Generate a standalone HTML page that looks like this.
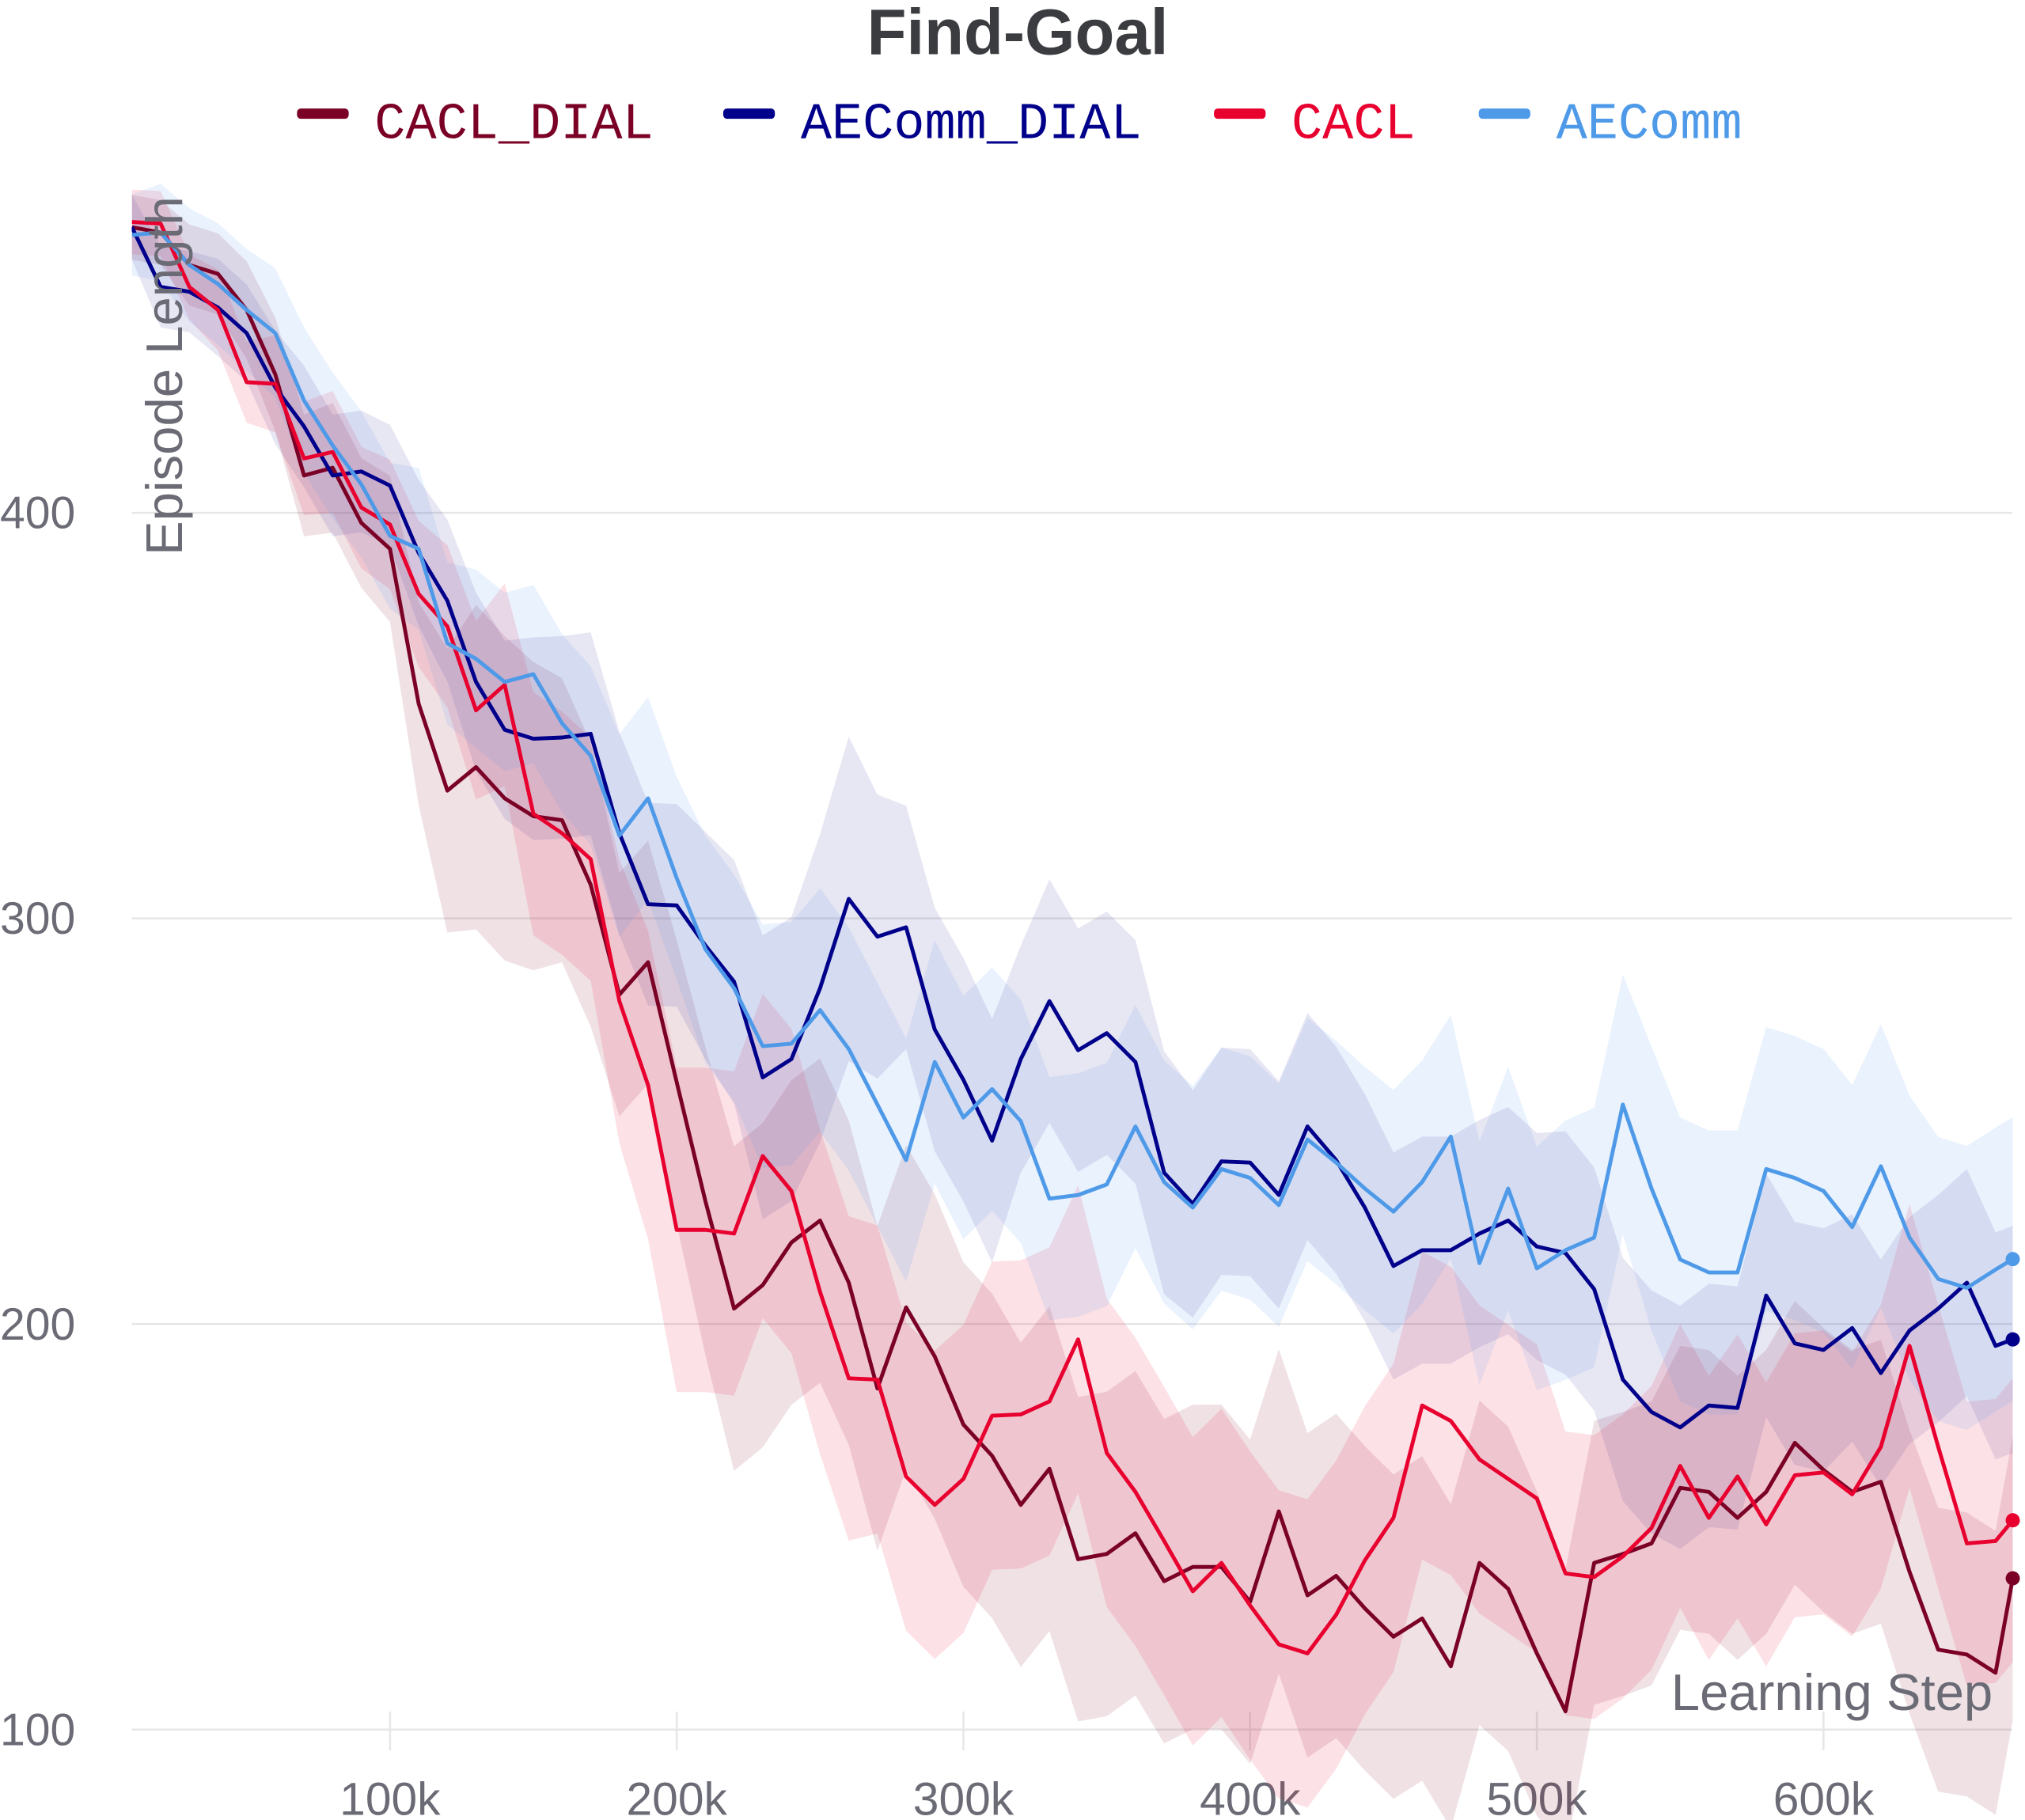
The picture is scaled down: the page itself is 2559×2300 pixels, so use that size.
<!DOCTYPE html>
<html><head><meta charset="utf-8"><style>
html,body{margin:0;padding:0;background:#fff;}
svg{display:block;}
</style></head><body>
<svg id="chart" xmlns="http://www.w3.org/2000/svg" width="2559" height="2300" viewBox="0 0 1568 1409" preserveAspectRatio="none">
<defs><clipPath id="clip"><rect x="102" y="0" width="1458" height="1409"/></clipPath></defs>
<text x="788" y="42" text-anchor="middle" font-family="Liberation Sans, sans-serif" font-weight="bold" font-size="50" fill="#3a3c40">Find-Goal</text>
<g id="legend" font-family="Liberation Mono, monospace" font-size="40"></g>
<g id="grid"></g>
<g id="bands" clip-path="url(#clip)"></g>
<g id="lines" clip-path="url(#clip)"></g>
<g id="dots"></g>
<text transform="translate(141,291) rotate(-90)" text-anchor="middle" font-family="Liberation Sans, sans-serif" font-size="40" fill="#6b6b76">Episode Length</text>
<text x="1543" y="1324" text-anchor="end" font-family="Liberation Sans, sans-serif" font-size="40" fill="#6b6b76">Learning Step</text>
</svg>
<script>
const steps = [10,20,30,40,50,60,70,80,90,100,110,120,130,140,150,160,170,180,190,200,210,220,230,240,250,260,270,280,290,300,310,320,330,340,350,360,370,380,390,400,410,420,430,440,450,460,470,480,490,500,510,520,530,540,550,560,570,580,590,600,610,620,630,640,650,660,666];
const caclDial = [470.4,469.1,461.1,458.9,450,434.1,409.2,411.1,397.5,391.1,352.9,331.5,337.3,329.6,325.2,324.2,308.3,281.2,289.2,259.6,230.3,203.8,209.6,220.1,225.5,210.2,184.1,204.1,192,175.2,167.5,155.4,164.3,142,143.3,148.4,136.6,140.1,140.1,131.5,153.8,133.1,137.9,129.9,122.9,127.4,115.6,141.1,134.7,118.8,104.5,141.1,143.3,145.9,159.6,158.6,152.2,158.6,170.7,164,158.6,161.1,138.9,119.7,118.5,114,137.3];
const aecommDial = [470.4,455.7,454.5,450.6,444.3,430.9,421.3,409.2,410.2,406.7,390.1,378.3,358.3,346.5,344.3,344.6,345.5,321,303.5,303.2,293.3,284.4,260.8,265.3,282.8,304.8,295.5,297.8,272.6,260.2,245.2,265.3,279.6,267.5,271.7,264.6,237.3,229.6,240.1,239.8,231.8,248.7,240.4,228.7,214.3,218.2,218.2,222.3,225.5,219.1,217.5,208.6,186.3,178.3,174.5,179.9,179.3,207,195.2,193.6,199,187.9,198.4,203.8,210.2,194.6,196.2];
const cacl = [471.7,471.3,455.7,450,432.2,431.8,413.4,415,401.3,397.1,380,372,351.3,357.6,325.8,321,314.6,279.6,258.9,223.2,223.2,222.3,241.4,232.8,207.9,186.6,186.3,162.4,155.4,161.8,177.4,177.7,180.9,196.2,168.2,158.6,146.5,134.1,141.1,130.6,121,118.8,128.3,141.7,152.2,179.9,176.1,166.6,161.8,157,138.5,137.6,142.7,149.7,165,152.2,162.4,150.6,162.7,163.4,158,169.7,194.6,169.7,145.9,146.5,151.6];
const aecomm = [468.5,469.1,461.1,456.4,450,444.3,427.7,416.6,407,394.3,391.1,367.8,364,358.3,360.2,348.1,340.1,320.4,329.6,309.9,292.4,282.8,268.5,269.1,277.4,267.8,254.1,240.4,264.6,250.9,257.9,250,230.9,231.8,234.4,248.7,235,228.7,238.2,236,229.3,245.5,239.8,233.4,227.7,235,246.2,215,233.4,213.7,218.2,221.3,254.1,233.4,215.9,212.7,212.7,238.2,236,232.8,223.9,238.9,221.3,211.1,208.9,213.4,216];
const caclDialSpread = [8,8,10,10,12,14,15,16,16,18,25,35,40,40,38,35,35,30,30,35,38,40,40,40,40,40,40,40,40,40,40,40,40,40,40,40,40,40,40,40,40,40,40,40,40,40,40,40,40,40,35,35,35,35,35,35,35,35,35,35,35,35,35,35,35,35,35];
const aecommDialSpread = [8,10,10,12,12,14,15,15,15,15,18,20,22,22,25,25,25,25,25,25,28,30,35,35,38,40,35,30,30,30,30,28,30,30,30,30,30,28,28,28,28,28,28,28,28,28,28,28,28,28,30,30,30,30,30,30,30,30,30,30,28,28,28,28,28,28,28];
const caclSpread = [8,8,8,10,10,12,14,15,15,16,18,20,22,25,30,30,30,35,38,40,40,40,40,40,40,40,38,38,38,38,38,38,38,38,38,38,38,38,38,38,38,38,38,38,38,38,38,38,38,38,35,35,35,35,35,35,35,35,35,35,35,35,35,35,35,35,35];
const aecommSpread = [10,12,14,15,15,16,18,18,18,18,20,20,22,22,22,22,22,25,25,25,28,28,30,30,30,30,30,30,30,30,30,30,30,30,30,30,30,30,30,30,30,30,30,30,30,30,30,30,30,30,32,32,32,35,35,35,35,35,35,35,35,35,35,35,35,35,35];
const yTicks = [100,200,300,400];
const xTicks = [100,200,300,400,500,600];
const seriesNames = ["CACL_DIAL","AEComm_DIAL","CACL","AEComm"];

const NS = "http://www.w3.org/2000/svg";
const xS = s => 302 + (s - 100) * 2.22;
const yS = v => 1339 - (v - 100) * 3.14;
function mk(tag, attrs, parent){ const e=document.createElementNS(NS,tag); for(const k in attrs) e.setAttribute(k,attrs[k]); parent.appendChild(e); return e; }

const grid = document.getElementById('grid');
yTicks.forEach(v=>{
  const l = mk('line',{x1:102,x2:1558,y1:yS(v),y2:yS(v),stroke:'#e6e6e6','stroke-width':1.5},grid);
  
  
  const t = mk('text',{x:0,y:yS(v)+12,'font-family':'Liberation Sans, sans-serif','font-size':35,fill:'#6b6b76'},grid);
  t.textContent = v;
  
  
});
xTicks.forEach(s=>{
  const l = mk('line',{x1:xS(s),x2:xS(s),y1:1325,y2:1355,stroke:'#e6e6e6','stroke-width':1.5},grid);
  
  
  const t = mk('text',{x:xS(s),y:1405,'text-anchor':'middle','font-family':'Liberation Sans, sans-serif','font-size':36,fill:'#6b6b76'},grid);
  t.textContent = s+'k';
  
  
});

const series = [
  {name:'cacl-dial', vals:caclDial, spread:caclDialSpread, color:'#7b0026', band:'rgba(128,10,40,0.12)'},
  {name:'aecomm-dial', vals:aecommDial, spread:aecommDialSpread, color:'#00008b', band:'rgba(40,30,150,0.11)'},
  {name:'cacl', vals:cacl, spread:caclSpread, color:'#e8002f', band:'rgba(235,20,60,0.13)'},
  {name:'aecomm', vals:aecomm, spread:aecommSpread, color:'#4e9ae8', band:'rgba(80,150,235,0.12)'}
];
const bands = document.getElementById('bands');
const lines = document.getElementById('lines');
const dots = document.getElementById('dots');
series.forEach(s=>{
  let up = s.vals.map((v,i)=>xS(steps[i])+','+yS(v+s.spread[i]));
  let dn = s.vals.map((v,i)=>xS(steps[i])+','+yS(v-s.spread[i])).reverse();
  const b = mk('polygon',{points:up.concat(dn).join(' '),fill:s.band},bands);
  
  
});
series.forEach(s=>{
  const p = mk('polyline',{points:s.vals.map((v,i)=>xS(steps[i])+','+yS(v)).join(' '),fill:'none',stroke:s.color,'stroke-width':3,'stroke-linejoin':'round'},lines);
  
  
  const n = s.vals.length-1;
  const d = mk('circle',{cx:xS(steps[n]),cy:yS(s.vals[n]),r:5.5,fill:s.color},dots);
  
  
});

const legend = document.getElementById('legend');
const legX = [230,560,940,1145];
seriesNames.forEach((nm,i)=>{
  const r = mk('rect',{x:legX[i],y:84,width:40,height:8,rx:3,fill:series[i].color},legend);
  
  
  const t = mk('text',{x:legX[i]+60,y:107,fill:series[i].color},legend);
  t.textContent = nm;
  
  
});
</script>
</body></html>
